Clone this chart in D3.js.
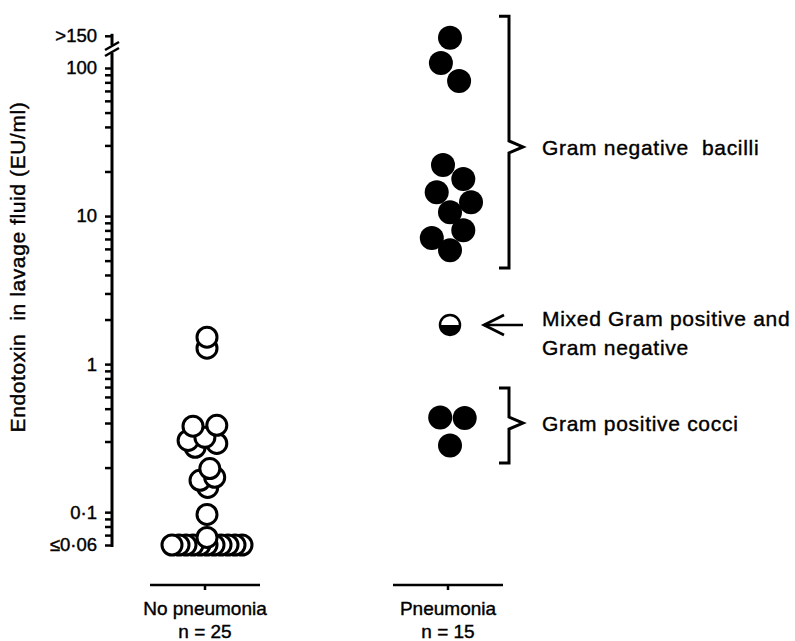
<!DOCTYPE html>
<html>
<head>
<meta charset="utf-8">
<script src="https://cdn.jsdelivr.net/npm/d3@7.9.0/dist/d3.min.js"></script>
<style>
  body { margin: 0; background: #fff; }
  svg { display: block; font-family: "Liberation Sans", Arial, sans-serif; }
  svg text { white-space: pre; stroke: #000; stroke-width: 0.4px; }
</style>
</head>
<body>
<svg width="795" height="641"></svg>
<script>
// groups on the x axis
const groups = ['No pneumonia', 'Pneumonia'];
const groupN = [25, 15];

// endotoxin in lavage fluid (EU/ml), no pneumonia; 0.06 = "<=0.06"
const noPneuValues = [1.52, 1.28, 0.386, 0.381, 0.32, 0.305, 0.291, 0.274, 0.197, 0.172, 0.164, 0.147, 0.0965, 0.0675,
  0.06, 0.06, 0.06, 0.06, 0.06, 0.06, 0.06, 0.06, 0.06, 0.06, 0.06];
// sideways spread, in point-widths
const noPneuSpread = [0, 0, 1.4, -2, -0.3, -2.7, 1.4, -1.7, 0.4, 1.1, -1, 0.1, 0, 0,
  -5, -4, -3, -2, -1, 0, 1, 2, 3, 4, 5];

// pneumonia, with organism; 160 is the ">150" point
const pneuValues = [160, 108, 81.7, 22.1, 17.8, 14.5, 12.4, 10.6, 8.03, 7.1, 5.88, 1.84, 0.436, 0.433, 0.282];
const pneuOrganism = ['gnb', 'gnb', 'gnb', 'gnb', 'gnb', 'gnb', 'gnb', 'gnb', 'gnb', 'gnb', 'gnb', 'mixed', 'gpc', 'gpc', 'gpc'];
const pneuSpread = [0, -1.3, 1.3, -1, 1.9, -1.9, 3, 0, 1.9, -2.6, 0, 0, -1.4, 2.1, 0];

// y axis ticks
const majorTicks = [0.06, 0.1, 1, 10, 100];
const majorLabels = ['≤0·06', '0·1', '1', '10', '100'];
const overflowTick = 165;
const overflowLabel = '>150';

// brackets and notes: [top, tip, bottom] on the value scale
const gnbBracket = [224, 29.3, 4.46];
const gpcBracket = [0.689, 0.40, 0.215];
const notes = [
  { lines: ['Gram negative  bacilli'], at: 29.3 },
  { lines: ['Mixed Gram positive and', 'Gram negative'], at: 1.84 },
  { lines: ['Gram positive cocci'], at: 0.40 }
];

const svg = d3.select('svg');
const axisX = 112;
const spreadStep = 7;

const y = d3.scaleLog().domain([0.06, 100]).range([545, 68]);
const x = d3.scalePoint().domain(groups).range([205, 448]);

// minor ticks every unit inside each decade
let minorTicks = [0.07, 0.08, 0.09];
for (let d of [0.1, 1, 10]) {
  for (let k = 2; k <= 9; k++) minorTicks.push(+(d * k).toPrecision(3));
}
let allTicks = majorTicks.concat(minorTicks, [overflowTick]);

let yAxis = d3.axisLeft(y)
  .tickValues(allTicks)
  .tickSize(7)
  .tickPadding(8)
  .tickFormat((d) => {
    if (d === overflowTick) return overflowLabel;
    let i = majorTicks.indexOf(d);
    return i >= 0 ? majorLabels[i] : '';
  });

let gy = svg.append('g')
  .attr('transform', `translate(${axisX},0)`)
  .call(yAxis);
gy.select('.domain').remove();
gy.selectAll('line').attr('stroke', '#000').attr('stroke-width', 2.5);
gy.selectAll('text')
  .attr('fill', '#000')
  .style('font-size', '18.5px');

// axis line with a break below the ">150" level
const breakTop = 45, breakBottom = 53;
svg.append('line')
  .attr('x1', axisX).attr('x2', axisX)
  .attr('y1', y(0.06) + 2).attr('y2', breakBottom)
  .attr('stroke', '#000').attr('stroke-width', 3);
svg.append('line')
  .attr('x1', axisX).attr('x2', axisX)
  .attr('y1', y(overflowTick) - 2).attr('y2', breakTop)
  .attr('stroke', '#000').attr('stroke-width', 3);
[breakTop + 1, breakBottom - 1].forEach((c) => {
  svg.append('line')
    .attr('x1', axisX - 7).attr('y1', c + 4)
    .attr('x2', axisX + 7).attr('y2', c - 4)
    .attr('stroke', '#000').attr('stroke-width', 2.5);
});

// y axis title
svg.append('text')
  .attr('transform', `translate(25,267) rotate(-90)`)
  .attr('text-anchor', 'middle')
  .style('font-size', '21px')
  .style('letter-spacing', '0.6px')
  .text('Endotoxin  in lavage fluid (EU/ml)');

// group axis: short line under each group with a centre tick
const groupY = 585;
groups.forEach((g, i) => {
  let cx = x(g);
  svg.append('line')
    .attr('x1', cx - 55).attr('x2', cx + 55)
    .attr('y1', groupY).attr('y2', groupY)
    .attr('stroke', '#000').attr('stroke-width', 2.5);
  svg.append('line')
    .attr('x1', cx).attr('x2', cx)
    .attr('y1', groupY).attr('y2', groupY + 5)
    .attr('stroke', '#000').attr('stroke-width', 2.5);
  svg.append('text')
    .attr('x', cx).attr('y', 615)
    .attr('text-anchor', 'middle')
    .style('font-size', '19px')
    .text(g);
  svg.append('text')
    .attr('x', cx).attr('y', 638)
    .attr('text-anchor', 'middle')
    .style('font-size', '19px')
    .text(`n = ${groupN[i]}`);
});

// open circles: lower ones first so the upper and left ones lie on top
let noPneu = noPneuValues.map((v, i) => ({ value: v, spread: noPneuSpread[i] }))
  .sort((a, b) => d3.ascending(a.value, b.value) || d3.descending(a.spread, b.spread));

svg.append('g')
  .selectAll('circle')
  .data(noPneu)
  .join('circle')
  .attr('cx', (d) => x(groups[0]) + 2 + d.spread * spreadStep)
  .attr('cy', (d) => y(d.value))
  .attr('r', 10)
  .attr('fill', '#fff')
  .attr('stroke', '#000')
  .attr('stroke-width', 3);

// filled circles
let pneu = pneuValues.map((v, i) => ({ value: v, org: pneuOrganism[i], spread: pneuSpread[i] }));
let pcx = (d) => x(groups[1]) + 2 + d.spread * spreadStep;

svg.append('g')
  .selectAll('circle')
  .data(pneu.filter((d) => d.org !== 'mixed'))
  .join('circle')
  .attr('cx', pcx)
  .attr('cy', (d) => y(d.value))
  .attr('r', 12)
  .attr('fill', '#000');

// mixed: white top half, black bottom half
let halfArc = d3.arc().innerRadius(0).outerRadius(10).startAngle(Math.PI / 2).endAngle(Math.PI * 3 / 2);
pneu.filter((d) => d.org === 'mixed').forEach((d) => {
  let g = svg.append('g').attr('transform', `translate(${pcx(d)},${y(d.value)})`);
  g.append('circle').attr('r', 10).attr('fill', '#fff').attr('stroke', '#000').attr('stroke-width', 2.5);
  g.append('path').attr('d', halfArc()).attr('fill', '#000');
});

// brackets
const bracketX = 509;
function bracket(b) {
  let [top, tip, bottom] = b.map(y);
  let p = d3.path();
  p.moveTo(bracketX - 10, top);
  p.lineTo(bracketX, top);
  p.lineTo(bracketX, tip - 6);
  p.lineTo(bracketX + 14, tip);
  p.lineTo(bracketX, tip + 6);
  p.lineTo(bracketX, bottom);
  p.lineTo(bracketX - 10, bottom);
  svg.append('path')
    .attr('d', p.toString())
    .attr('fill', 'none')
    .attr('stroke', '#000')
    .attr('stroke-width', 3);
}
bracket(gnbBracket);
bracket(gpcBracket);

// arrow to the mixed point
let ay = y(1.84);
svg.append('line')
  .attr('x1', 484).attr('x2', 523)
  .attr('y1', ay).attr('y2', ay)
  .attr('stroke', '#000').attr('stroke-width', 2.5);
svg.append('path')
  .attr('d', `M504,${ay - 10} L484,${ay} L504,${ay + 10}`)
  .attr('fill', 'none')
  .attr('stroke', '#000').attr('stroke-width', 2.8);

// notes: first line sits on the pointer, extra lines hang below
const lineGap = 29;
notes.forEach((n) => {
  let t = svg.append('text')
    .attr('x', 542)
    .attr('y', y(n.at) + 8 - (n.lines.length - 1) * lineGap * 0.25)
    .style('font-size', '21px')
    .style('letter-spacing', '0.7px');
  n.lines.forEach((l, i) => {
    t.append('tspan')
      .attr('x', 542)
      .attr('dy', i === 0 ? 0 : lineGap)
      .text(l);
  });
});
</script>
</body>
</html>
